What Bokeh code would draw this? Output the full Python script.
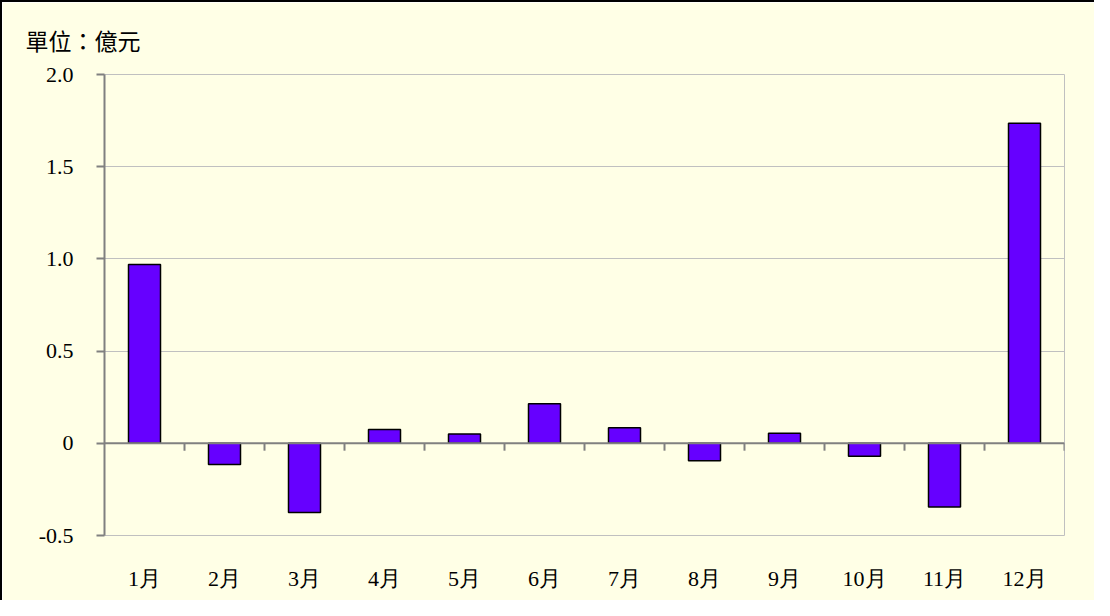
from bokeh.plotting import figure
from bokeh.models import Range1d, FixedTicker, Span, Title, ColumnDataSource
from bokeh.embed import file_html
from bokeh.resources import INLINE

months = ["1月", "2月", "3月", "4月", "5月", "6月", "7月", "8月", "9月", "10月", "11月", "12月"]
values = [0.97, -0.115, -0.375, 0.075, 0.05, 0.215, 0.085, -0.095, 0.055, -0.07, -0.345, 1.735]
y_ticks = [-0.5, 0, 0.5, 1.0, 1.5, 2.0]
y_labels = ["-0.5", "0", "0.5", "1.0", "1.5", "2.0"]
unit_text = "單位：億元"

BG = "#FFFFE6"
xs = [i + 0.5 for i in range(len(months))]
src = ColumnDataSource(dict(x=xs, top=values))

p = figure(width=1094, height=600, output_backend="svg", toolbar_location=None,
           x_range=Range1d(0, len(months)), y_range=Range1d(-0.5, 2.0),
           min_border_left=102, min_border_right=32, min_border_top=72, min_border_bottom=67,
           background_fill_color=BG, border_fill_color=BG)
p.styles = {"border-left": "2px solid black", "border-top": "2px solid black"}

p.add_layout(Title(text=unit_text, align="left", offset=-79, standoff=36,
                   text_font="Noto Sans CJK TC", text_font_size="23px",
                   text_font_style="normal", text_color="black"), "above")

p.outline_line_color = "#C0C0C0"
p.xgrid.visible = False
p.ygrid.ticker = FixedTicker(ticks=y_ticks)
p.ygrid.grid_line_color = "#C0C0C0"

# y axis
p.yaxis.ticker = FixedTicker(ticks=y_ticks)
p.yaxis.major_label_overrides = {t: l for t, l in zip(y_ticks, y_labels)}
p.yaxis.axis_line_color = "#808080"
p.yaxis.axis_line_width = 2
p.yaxis.major_tick_line_color = "#808080"
p.yaxis.major_tick_line_width = 2
p.yaxis.major_tick_out = 8
p.yaxis.major_tick_in = 0
p.yaxis.minor_tick_line_color = None
p.yaxis.major_label_standoff = 23
p.yaxis.major_label_text_font = "Liberation Serif"
p.yaxis.major_label_text_font_size = "22px"
p.yaxis.major_label_text_color = "black"

# x axis (labels only)
p.xaxis.ticker = FixedTicker(ticks=xs)
p.xaxis.major_label_overrides = {x: m for x, m in zip(xs, months)}
p.xaxis.axis_line_color = None
p.xaxis.major_tick_line_color = None
p.xaxis.minor_tick_line_color = None
p.xaxis.major_label_standoff = 24
p.xaxis.major_label_text_font = "Liberation Serif"
p.xaxis.major_label_text_font_size = "22px"
p.xaxis.major_label_text_color = "black"

# bars
p.vbar(x="x", top="top", bottom=0, width=0.4, source=src,
       fill_color="#6600FF", line_color="black", line_width=1.5)

# zero axis line with downward ticks at category boundaries
p.add_layout(Span(location=0, dimension="width", line_color="#808080", line_width=2))
bounds = [i + 1 for i in range(len(months))]
p.segment(x0=bounds, x1=bounds, y0=[0] * len(bounds), y1=[-0.04] * len(bounds),
          line_color="#808080", line_width=2)

open("out.html", "w").write(file_html(p, INLINE))
